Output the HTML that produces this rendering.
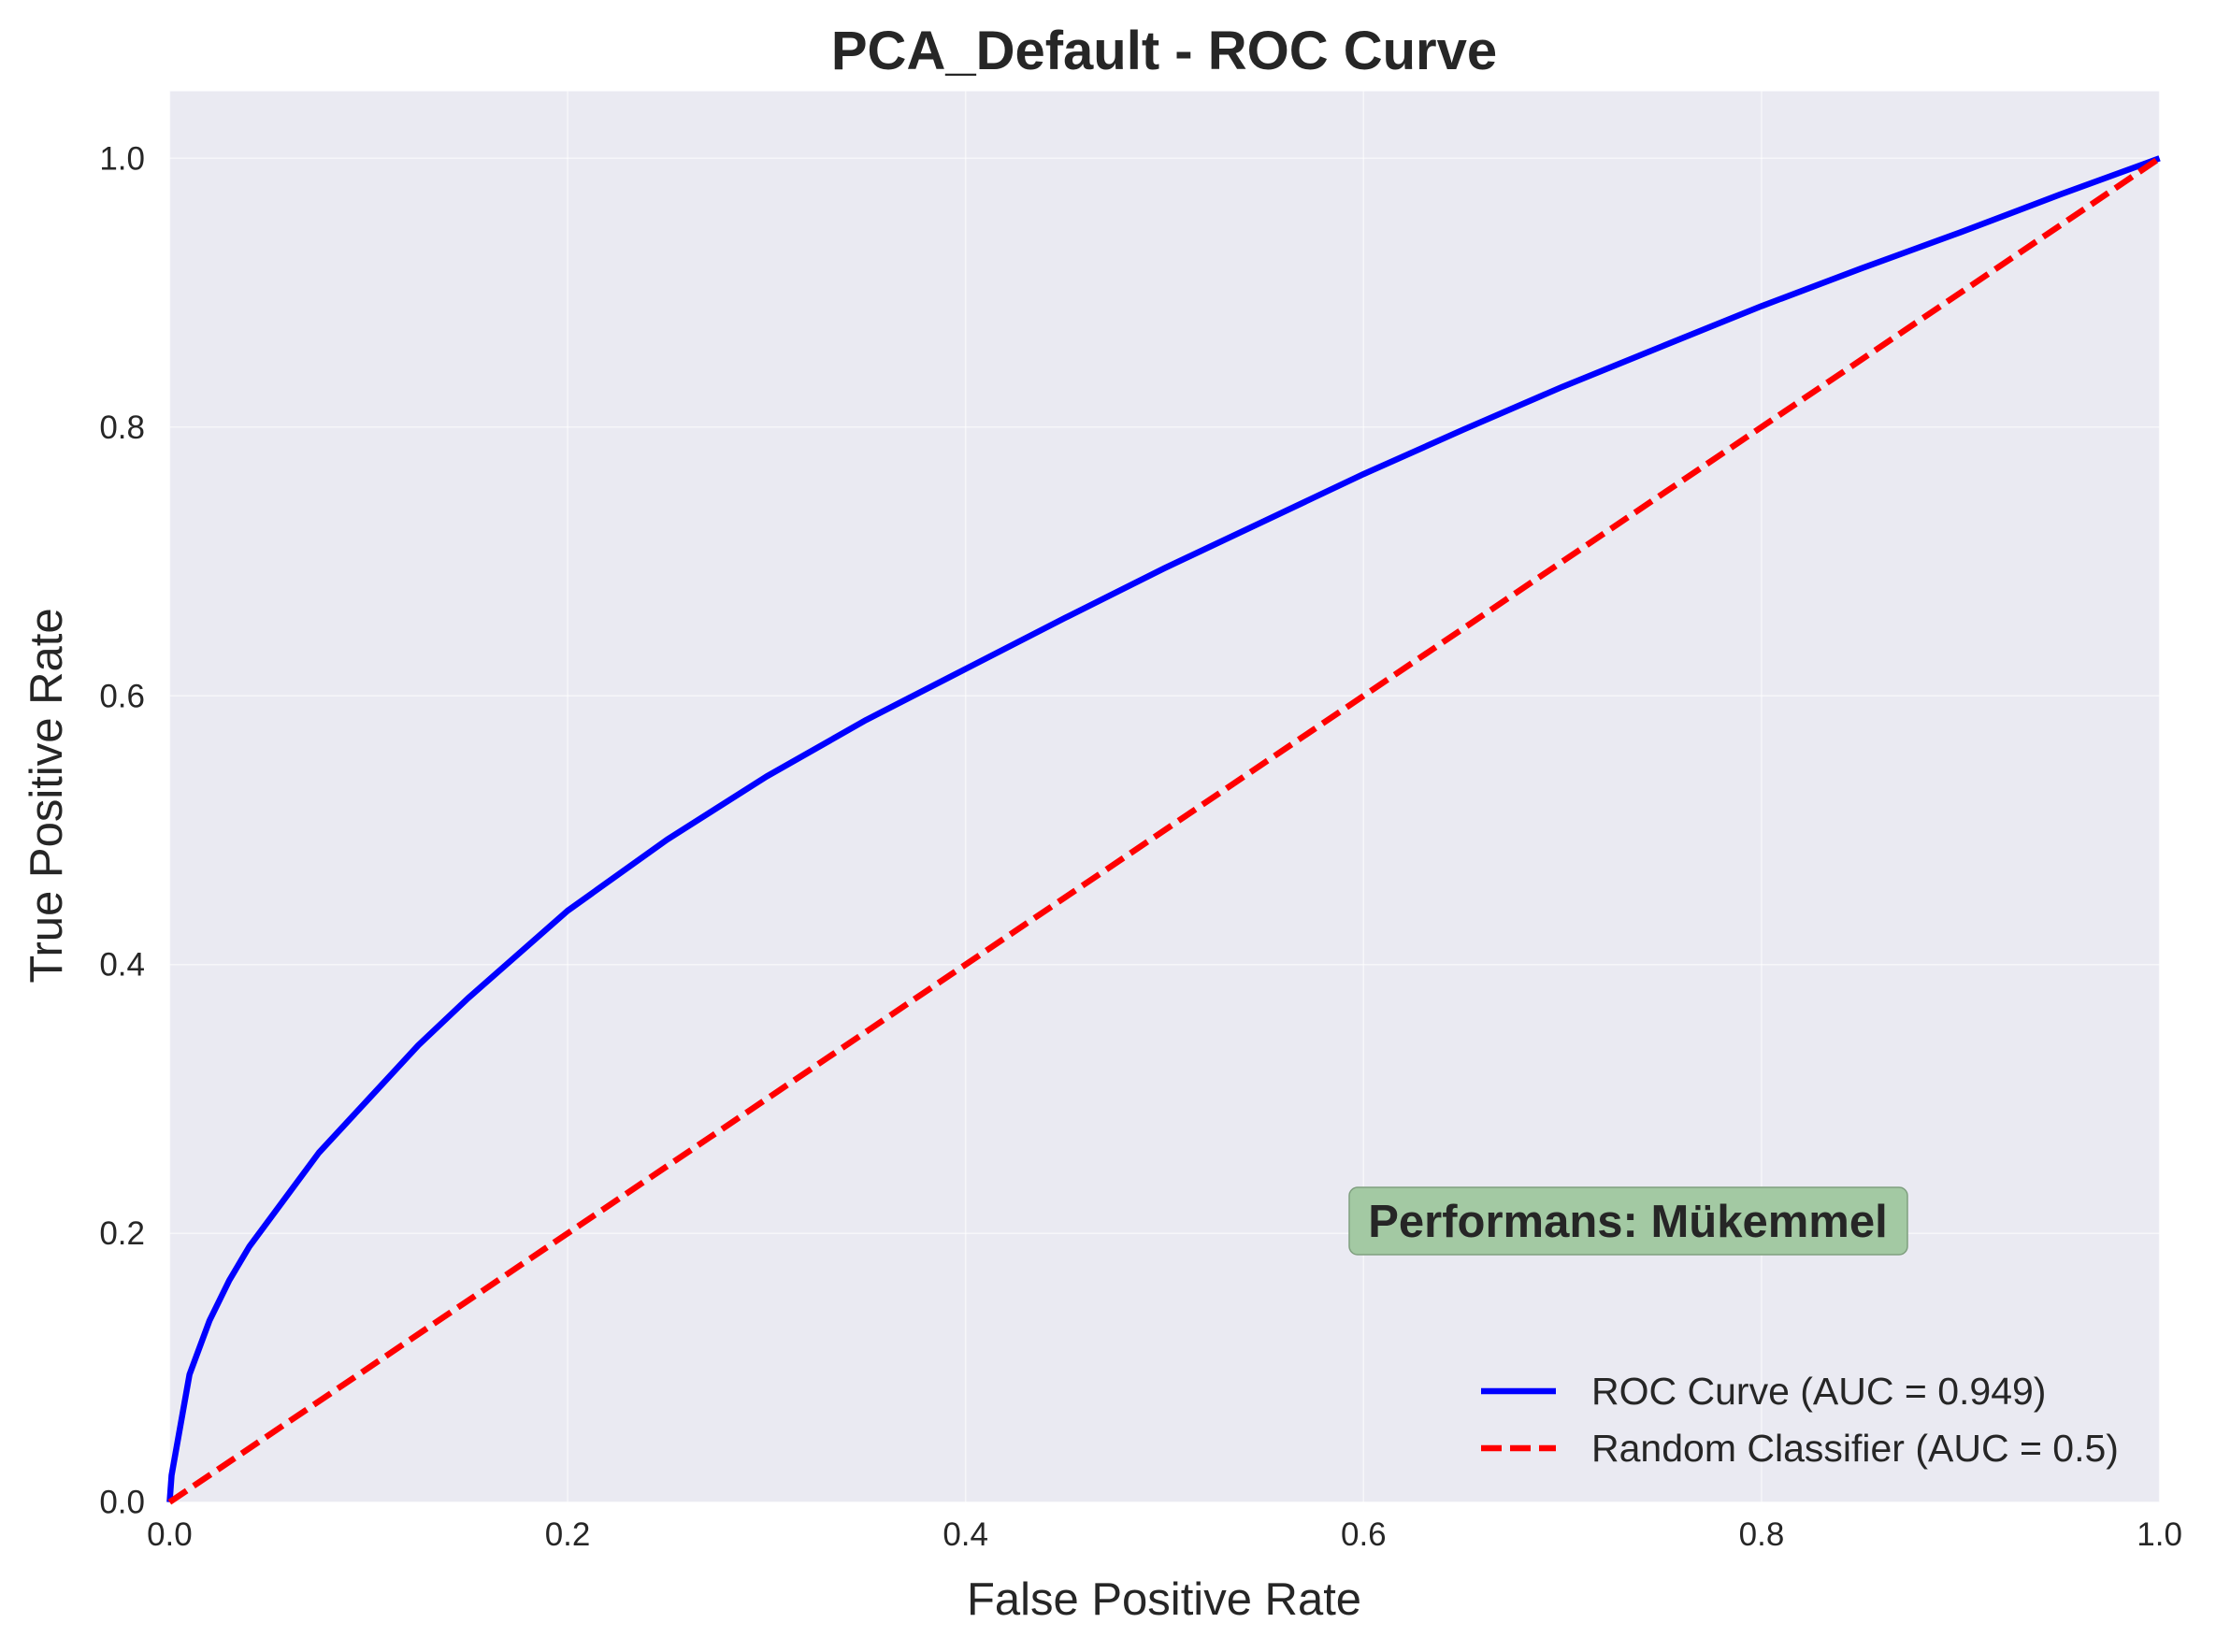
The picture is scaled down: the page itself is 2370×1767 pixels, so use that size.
<!DOCTYPE html>
<html><head><meta charset="utf-8"><style>
body{margin:0;background:#fff;}
svg{display:block;font-family:"Liberation Sans",Arial,sans-serif;}
</style></head><body>
<svg id="chart" width="2370" height="1767" viewBox="0 0 2370 1767">
<rect x="181.4" y="97.6" width="2128.2" height="1509.1" fill="#eaeaf2"/>
<g id="grid"></g>
<g id="ticks"></g>
<g id="series"></g>
<text x="1245" y="74" text-anchor="middle" font-size="58" font-weight="bold" fill="#262626">PCA_Default - ROC Curve</text>
<text x="1245" y="1727" text-anchor="middle" font-size="49" fill="#262626">False Positive Rate</text>
<text x="0" y="0" dominant-baseline="central" transform="translate(50,851) rotate(-90)" text-anchor="middle" font-size="49" fill="#262626">True Positive Rate</text>
<g>
<rect x="1443" y="1270" width="597" height="72" rx="9" fill="#a3c9a3" stroke="#7f9f7f" stroke-width="1.5"/>
<text x="1741" y="1323" text-anchor="middle" font-size="49" font-weight="bold" fill="#262626">Performans: Mükemmel</text>
</g>
<g>
<line x1="1584" y1="1488" x2="1664" y2="1488" stroke="#0000ff" stroke-width="6.5"/>
<text x="1702" y="1502" font-size="41" fill="#262626">ROC Curve (AUC = 0.949)</text>
<line x1="1584" y1="1549" x2="1664" y2="1549" stroke="#ff0000" stroke-width="6.5" stroke-dasharray="22,9"/>
<text x="1702" y="1563" font-size="41" fill="#262626">Random Classifier (AUC = 0.5)</text>
</g>
</svg>
<script>
const fpr = [0,0.001,0.01,0.02,0.03,0.04,0.05,0.075,0.1,0.125,0.15,0.2,0.25,0.3,0.35,0.4,0.45,0.5,0.55,0.6,0.65,0.7,0.75,0.8,0.85,0.9,0.95,1];
const tpr = [0,0.02,0.095,0.135,0.165,0.19,0.21,0.26,0.30,0.34,0.375,0.44,0.493,0.54,0.582,0.62,0.658,0.695,0.73,0.765,0.798,0.83,0.86,0.89,0.918,0.945,0.973,1];
const randX = [0,1];
const randY = [0,1];
const xTicks = [0,0.2,0.4,0.6,0.8,1.0];
const yTicks = [0,0.2,0.4,0.6,0.8,1.0];
const X0=181.4,X1=2309.6,Y0=1606.7,Y1=169.3;
const sx=v=>X0+(X1-X0)*v, sy=v=>Y0-(Y0-Y1)*v;
const NS="http://www.w3.org/2000/svg";
const grid=document.getElementById('grid'),ticks=document.getElementById('ticks'),series=document.getElementById('series');
xTicks.forEach(t=>{
 const l=document.createElementNS(NS,'line');
 l.setAttribute('x1',sx(t));l.setAttribute('x2',sx(t));l.setAttribute('y1',97.6);l.setAttribute('y2',1606.7);
 l.setAttribute('stroke','#ffffff');l.setAttribute('stroke-width','1.5');l.setAttribute('opacity','0.6');
 
 
 grid.appendChild(l);
 const tx=document.createElementNS(NS,'text');
 tx.setAttribute('x',sx(t));tx.setAttribute('y',1653);tx.setAttribute('text-anchor','middle');
 tx.setAttribute('font-size','35');tx.setAttribute('fill','#262626');tx.textContent=t.toFixed(1);
 
 
 ticks.appendChild(tx);
});
yTicks.forEach(t=>{
 const l=document.createElementNS(NS,'line');
 l.setAttribute('y1',sy(t));l.setAttribute('y2',sy(t));l.setAttribute('x1',181.4);l.setAttribute('x2',2309.6);
 l.setAttribute('stroke','#ffffff');l.setAttribute('stroke-width','1.5');l.setAttribute('opacity','0.6');
 
 
 grid.appendChild(l);
 const tx=document.createElementNS(NS,'text');
 tx.setAttribute('x',155);tx.setAttribute('y',sy(t)+12);tx.setAttribute('text-anchor','end');
 tx.setAttribute('font-size','35');tx.setAttribute('fill','#262626');tx.textContent=t.toFixed(1);
 
 
 ticks.appendChild(tx);
});
function path(xs,ys){return xs.map((x,i)=>(i?'L':'M')+sx(x).toFixed(1)+','+sy(ys[i]).toFixed(1)).join(' ');}
const roc=document.createElementNS(NS,'path');
roc.setAttribute('d',path(fpr,tpr));roc.setAttribute('fill','none');roc.setAttribute('stroke','#0000ff');
roc.setAttribute('stroke-width','6.5');roc.setAttribute('stroke-linejoin','round');


series.appendChild(roc);
const rnd=document.createElementNS(NS,'path');
rnd.setAttribute('d',path(randX,randY));rnd.setAttribute('fill','none');rnd.setAttribute('stroke','#ff0000');
rnd.setAttribute('stroke-width','6.5');rnd.setAttribute('stroke-dasharray','22,9');


series.appendChild(rnd);
</script>
</body></html>
